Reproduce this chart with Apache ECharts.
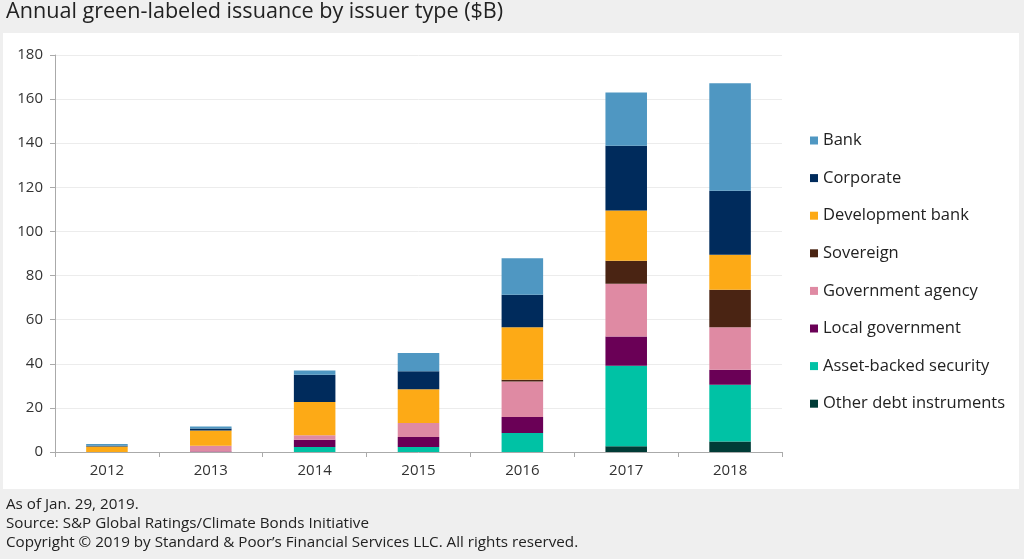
<!DOCTYPE html>
<html>
<head>
<meta charset="utf-8">
<script src="https://cdn.jsdelivr.net/npm/echarts@6/dist/echarts.min.js"></script>
<style>
html,body{margin:0;padding:0;background:#efefef;}
#c{width:1024px;height:559px;}
</style>
</head>
<body>
<div id="c"></div>
<script>
const years = ['2012','2013','2014','2015','2016','2017','2018'];
const yTicks = [0,20,40,60,80,100,120,140,160,180];
const otherDebt = [0, 0, 0, 0, 0, 2.6, 4.8];
const assetBacked = [0, 0, 2.3, 2.3, 8.6, 36.5, 25.7];
const localGov = [0, 0.2, 3.3, 4.5, 7.3, 13.3, 6.8];
const govAgency = [0, 2.6, 2.0, 6.3, 16.1, 23.9, 19.3];
const sovereign = [0, 0, 0, 0, 0.8, 10.4, 17.0];
const devBank = [2.5, 7.0, 15.1, 15.4, 23.8, 22.8, 15.8];
const corporate = [0.3, 0.9, 12.3, 8.1, 14.7, 29.3, 29.0];
const bank = [0.8, 0.9, 2.0, 8.3, 16.6, 24.2, 48.8];

const names = ['Other debt instruments','Asset-backed security','Local government','Government agency','Sovereign','Development bank','Corporate','Bank'];
const values = [otherDebt, assetBacked, localGov, govAgency, sovereign, devBank, corporate, bank];
const colors = ['#003b36','#00c2a5','#6a0056','#df8aa3','#4a2413','#fdaa16','#002b5c','#4f97c2'];

const chart = echarts.init(document.getElementById('c'));
const font = '"Open Sans", Roboto, sans-serif';
chart.setOption({
  backgroundColor: '#efefef',
  animation: false,
  textStyle: {fontFamily: font},
  graphic: [
    {type:'rect', shape:{x:3,y:33,width:1016,height:456}, style:{fill:'#ffffff'}, z:-10, silent:true},
    {type:'text', left:6, top:1, style:{text:'Annual green-labeled issuance by issuer type ($B)', fontSize:21.6, fill:'#222', fontFamily:font}},
    {type:'text', left:6, top:497, style:{text:'As of Jan. 29, 2019.', fontSize:15.2, fill:'#222', fontFamily:font}},
    {type:'text', left:6, top:516, style:{text:'Source: S&P Global Ratings/Climate Bonds Initiative', fontSize:15.2, fill:'#222', fontFamily:font}},
    {type:'text', left:6, top:535, style:{text:'Copyright \u00A9 2019 by Standard & Poor\u2019s Financial Services LLC. All rights reserved.', fontSize:15.2, fill:'#222', fontFamily:font}}
  ],
  legend: {
    orient: 'vertical',
    left: 805,
    top: 127,
    itemWidth: 8,
    itemHeight: 8,
    itemGap: 20.6,
    icon: 'rect',
    data: names.slice().reverse(),
    textStyle: {fontSize: 16.5, color: '#222', lineHeight: 16, padding:[0,0,0,0]}
  },
  grid: {left: 55, right: 242, top: 55, bottom: 107, containLabel: false},
  xAxis: {
    type: 'category',
    data: years,
    axisLine: {lineStyle: {color: '#aaa'}},
    axisTick: {show: true, lineStyle: {color: '#aaa'}, length: 5},
    axisLabel: {fontSize: 15, color: '#333', margin: 11}
  },
  yAxis: {
    type: 'value',
    min: 0, max: 180, interval: 20,
    axisLine: {show: true, lineStyle: {color: '#aaa'}},
    axisTick: {show: true, lineStyle: {color: '#aaa'}, length: 5},
    axisLabel: {fontSize: 15, color: '#333', margin: 12, formatter: v => yTicks.includes(v) ? String(v) : ''},
    splitLine: {lineStyle: {color: '#ececec'}}
  },
  series: names.map((n, i) => ({
    name: n,
    type: 'bar',
    stack: 'total',
    barWidth: '40%',
    data: values[i],
    itemStyle: {color: colors[i]}
  }))
});
</script>
</body>
</html>
